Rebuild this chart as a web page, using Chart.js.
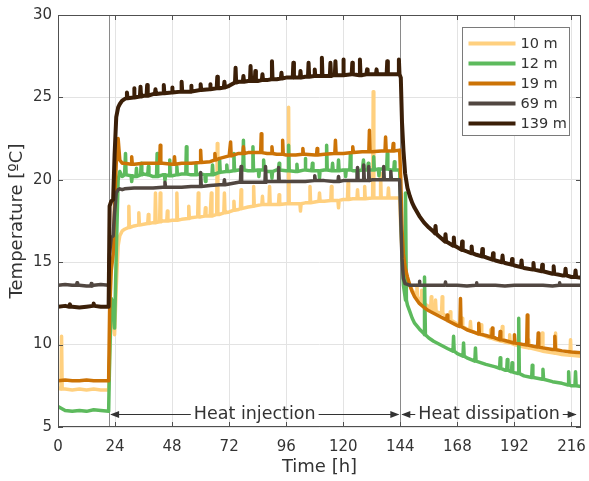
<!DOCTYPE html>
<html>
<head>
<meta charset="utf-8">
<script src="https://cdn.jsdelivr.net/npm/chart.js@4.4.1/dist/chart.umd.min.js"></script>
<style>
  html, body { margin: 0; padding: 0; background: #fff; }
  #wrap { width: 589px; height: 481px; }
</style>
</head>
<body>
<div id="wrap"><canvas id="chart" width="589" height="481"></canvas></div>
<script>
// time grid [h]
const hours = [0, 3, 6, 9, 12, 15, 18, 21.3,
  21.7, 22.4, 23.2, 23.8, 24.5, 25.3, 26, 27,
  28, 32, 36, 40, 44, 48, 52, 56, 60, 64, 68, 72, 76, 80, 84, 88, 92, 96, 100, 104, 108, 112, 116, 120, 124, 128, 132, 136, 140,
  143.7, 144.2, 144.7, 145.3, 146, 147, 148, 149, 150, 152, 154, 156, 158, 160,
  164, 168, 172, 176, 180, 184, 188, 192, 196, 200, 204, 208, 212, 216, 220];

const temp10 = [7.35, 7.3, 7.25, 7.3, 7.25, 7.3, 7.25, 7.25,
  9.0, 12.0, 12.5, 10.6, 13.5, 16.0, 16.6, 16.9,
  17.0, 17.2, 17.3, 17.4, 17.5, 17.55, 17.6, 17.7, 17.75, 17.8, 17.9, 18.05, 18.2, 18.35, 18.45, 18.5, 18.5, 18.55, 18.55, 18.6, 18.65, 18.7, 18.75, 18.8, 18.85, 18.85, 18.9, 18.9, 18.9,
  18.9, 17.0, 15.6, 14.8, 14.3, 13.9, 13.6, 13.3, 13.1, 12.75, 12.5, 12.3, 12.1, 11.95,
  11.6, 11.25, 10.95, 10.7, 10.5, 10.3, 10.15, 10.0, 9.85, 9.75, 9.6, 9.5, 9.4, 9.35, 9.3];

const temp12 = [6.25, 6.0, 5.95, 6.0, 5.95, 6.05, 6.0, 5.95,
  9.0, 12.8, 12.5, 11.0, 15.5, 20.0, 20.5, 20.2,
  20.3, 20.2, 20.35, 20.2, 20.3, 20.25, 20.35, 20.3, 20.35, 20.3, 20.45, 20.5, 20.6, 20.55, 20.6, 20.5, 20.6, 20.55, 20.5, 20.6, 20.55, 20.6, 20.55, 20.6, 20.55, 20.6, 20.6, 20.65, 20.6,
  20.6, 18.5, 15.5, 13.6, 12.9, 12.4, 12.0, 11.6, 11.3, 10.95, 10.65, 10.4, 10.2, 10.05,
  9.75, 9.45, 9.2, 9.0, 8.8, 8.65, 8.45, 8.3, 8.1, 8.0, 7.9, 7.75, 7.65, 7.5, 7.45];

const temp19 = [7.8, 7.85, 7.8, 7.8, 7.85, 7.8, 7.8, 7.8,
  12.0, 14.5, 15.5, 18.5, 21.0, 22.5, 21.2, 21.0,
  21.0, 20.95, 21.0, 21.0, 21.0, 20.95, 21.0, 21.0, 21.05, 21.1, 21.3, 21.45, 21.6, 21.65, 21.65, 21.6, 21.55, 21.5, 21.5, 21.55, 21.5, 21.55, 21.6, 21.6, 21.65, 21.7, 21.7, 21.75, 21.75,
  21.8, 20.0, 17.0, 15.5, 14.7, 14.1, 13.6, 13.2, 12.9, 12.5, 12.25, 12.05, 11.9, 11.75,
  11.45, 11.15, 10.9, 10.7, 10.55, 10.4, 10.25, 10.1, 10.0, 9.9, 9.8, 9.7, 9.62, 9.55, 9.5];

const temp69 = [13.6, 13.65, 13.6, 13.6, 13.55, 13.6, 13.65, 13.6,
  15.5, 16.5, 16.6, 18.0, 19.2, 19.4, 19.45, 19.4,
  19.45, 19.5, 19.5, 19.5, 19.55, 19.55, 19.55, 19.6, 19.6, 19.65, 19.7, 19.75, 19.85, 19.85, 19.85, 19.9, 19.9, 19.9, 19.9, 19.9, 19.95, 19.95, 19.9, 19.95, 19.95, 19.95, 20.0, 20.0, 20.0,
  20.0, 17.5, 15.2, 14.0, 13.7, 13.65, 13.6, 13.6, 13.6, 13.6, 13.6, 13.6, 13.6, 13.6,
  13.6, 13.6, 13.55, 13.6, 13.6, 13.6, 13.55, 13.6, 13.6, 13.6, 13.6, 13.55, 13.6, 13.6, 13.6];

const temp139 = [12.3, 12.35, 12.3, 12.25, 12.3, 12.35, 12.3, 12.3,
  18.4, 18.7, 18.8, 21.5, 23.8, 24.4, 24.6, 24.8,
  24.9, 25.0, 25.1, 25.2, 25.25, 25.3, 25.35, 25.35, 25.45, 25.5, 25.55, 25.7, 25.95, 26.0, 26.0, 26.05, 26.1, 26.2, 26.2, 26.25, 26.3, 26.3, 26.35, 26.35, 26.4, 26.35, 26.4, 26.4, 26.4,
  26.4, 26.2, 23.5, 21.8, 20.4, 19.5, 19.0, 18.6, 18.3, 17.8, 17.4, 17.1, 16.85, 16.6,
  16.2, 15.9, 15.65, 15.45, 15.3, 15.1, 14.95, 14.8, 14.65, 14.55, 14.45, 14.3, 14.2, 14.1, 14.05];

// short spikes: [hour, base, peak]
const spikes10 = [[1.5, 7.3, 10.5], [29.8, 17.1, 18.4], [34, 17.25, 18.0], [38, 17.35, 17.9], [41, 17.4, 19.2], [43, 17.45, 19.2],
  [46, 17.5, 18.1], [50, 17.55, 19.2], [55, 17.65, 18.4], [59, 17.75, 19.2], [62, 17.8, 18.3], [64.5, 17.8, 19.2],
  [67, 17.9, 22.2], [70, 18.0, 19.2], [74, 18.15, 18.7], [77, 18.25, 19.4], [82.3, 18.4, 19.6], [86, 18.5, 19.0],
  [89, 18.5, 19.6], [93, 18.5, 19.1], [97, 18.55, 24.4], [102, 18.55, 18.1], [106, 18.6, 19.6], [110, 18.7, 19.2],
  [115, 18.75, 19.6], [118, 18.75, 18.3], [122, 18.8, 19.8], [126, 18.85, 19.4], [129, 18.85, 19.6],
  [132.6, 18.9, 25.35], [135.7, 18.9, 20.4], [139, 18.9, 19.5], [151, 12.9, 13.6], [153, 12.6, 13.3], [157, 12.2, 12.9],
  [158.8, 12.0, 12.7], [161.6, 11.9, 12.9], [165, 11.5, 12.0], [170, 11.1, 11.6], [173.5, 10.85, 11.4], [178, 10.6, 11.2],
  [182, 10.4, 10.9], [186.9, 10.2, 11.1], [190, 10.1, 10.6], [198, 9.8, 10.3], [203.7, 9.62, 10.7], [209.3, 9.48, 10.7],
  [215.6, 9.35, 10.3]];

const spikes12 = [[28.4, 20.3, 21.6], [31, 20.25, 19.9], [33, 20.2, 20.7], [35, 20.3, 21.0], [38, 20.3, 20.8],
  [41.7, 20.2, 21.6], [45, 20.3, 19.95], [47, 20.25, 21.2], [50, 20.3, 20.8], [54, 20.35, 22.0], [58, 20.3, 21.0],
  [62, 20.3, 19.9], [65, 20.3, 20.9], [68, 20.45, 21.2], [71, 20.5, 20.9], [74, 20.55, 21.6], [78, 20.6, 22.4],
  [82, 20.55, 22.0], [84.5, 20.6, 20.2], [86.5, 20.6, 21.2], [90, 20.5, 20.1], [93, 20.6, 21.0], [97, 20.55, 22.1],
  [100.5, 20.5, 20.95], [104, 20.6, 21.3], [107, 20.55, 21.0], [110, 20.55, 20.1], [113, 20.6, 22.1], [115.5, 20.55, 21.0],
  [118, 20.55, 21.2], [121, 20.6, 20.2], [123, 20.6, 21.6], [126, 20.55, 20.15], [128.5, 20.6, 21.2], [130.5, 20.6, 21.0],
  [132.8, 20.6, 21.4], [135, 20.65, 20.25], [138.5, 20.65, 21.6], [141.5, 20.6, 21.1], [146.3, 12.7, 19.2],
  [154.3, 10.6, 14.1], [166.4, 9.6, 10.5], [170.6, 9.3, 10.1], [175.6, 9.0, 9.8], [186, 8.55, 9.2], [189, 8.45, 9.1],
  [191, 8.35, 8.9], [193.8, 8.25, 11.6], [199.5, 8.0, 8.75], [204, 7.9, 8.5], [214.8, 7.55, 8.35], [217.7, 7.5, 8.35]];

const spikes19 = [[31, 20.95, 21.4], [43, 21.0, 22.1], [49, 20.95, 21.4], [60, 21.05, 21.8], [66, 21.2, 21.6],
  [72.6, 21.45, 22.3], [78, 21.6, 22.0], [85.5, 21.65, 22.8], [90, 21.6, 22.0], [94.5, 21.55, 22.4], [103, 21.55, 21.9],
  [109, 21.5, 21.9], [116.7, 21.6, 22.4], [124, 21.65, 22.0], [131, 21.7, 23.0], [137.8, 21.75, 22.6], [141, 21.75, 22.2],
  [163.7, 11.5, 11.8], [169.3, 11.1, 12.8], [177, 10.65, 11.3], [182.7, 10.45, 11.0], [186, 10.3, 10.8], [192, 10.1, 10.6],
  [197.4, 9.98, 11.8], [202, 9.85, 10.7], [209, 9.7, 10.5]];

const spikes69 = [[8, 13.6, 13.75], [14, 13.55, 13.7], [45, 19.55, 19.85], [60, 19.6, 20.45], [70, 19.7, 20.0],
  [77, 19.85, 20.8], [87.3, 19.85, 20.8], [92.8, 19.9, 20.75], [108, 19.95, 20.25], [118, 19.9, 20.2], [126, 19.95, 20.75],
  [128.6, 19.95, 20.9], [130.7, 19.95, 20.8], [137, 20.0, 20.8], [140, 20.0, 20.5], [152, 13.6, 13.85], [163, 13.6, 13.8],
  [176, 13.6, 13.75], [211, 13.6, 13.75]];

const spikes139 = [[5, 12.3, 12.45], [15, 12.35, 12.5], [29, 24.95, 25.3], [32, 25.0, 25.55], [34.7, 25.05, 25.65],
  [37.5, 25.1, 25.75], [41, 25.2, 25.5], [44.5, 25.25, 25.75], [48, 25.3, 25.6], [52, 25.35, 25.95], [56, 25.35, 25.7],
  [60, 25.45, 25.8], [64, 25.5, 25.8], [67, 25.55, 26.25], [70, 25.6, 25.95], [74.7, 25.9, 26.8], [78, 25.95, 26.3],
  [81, 26.0, 26.9], [83, 26.0, 26.6], [86, 26.05, 26.4], [90, 26.1, 27.2], [94, 26.15, 26.5], [99, 26.2, 27.1],
  [102, 26.2, 26.6], [105.4, 26.25, 27.1], [108, 26.3, 26.7], [111, 26.3, 27.4], [114.6, 26.3, 27.1], [116.7, 26.35, 27.2],
  [120, 26.35, 27.3], [123.8, 26.4, 27.1], [127, 26.35, 27.3], [130, 26.4, 26.7], [134, 26.4, 26.7], [138.5, 26.4, 27.2],
  [143.4, 26.4, 27.3], [158.8, 16.75, 17.2], [163, 16.25, 16.7], [166.5, 16.0, 16.5], [170, 15.75, 16.25],
  [174, 15.55, 15.95], [178.5, 15.35, 15.8], [183, 15.15, 15.55], [187, 15.0, 15.4], [191, 14.85, 15.2], [195, 14.7, 15.1],
  [200, 14.55, 14.95], [203.7, 14.45, 14.85], [208.5, 14.3, 14.75], [213.5, 14.2, 14.6], [217.7, 14.1, 14.5]];

const labels = ['10 m', '12 m', '19 m', '69 m', '139 m'];
const colors = ['#FFD07F', '#5DBA5D', '#CC7306', '#514741', '#3B1F08'];
const phaseLines = [21.5, 144];
const phases = [
  { label: 'Heat injection', from: 21.5, to: 144 },
  { label: 'Heat dissipation', from: 144, to: 218.6 },
];
const arrowLevel = 5.8;

function buildSeries(values, spikes) {
  const pts = hours.map((h, i) => ({ x: h, y: values[i] }));
  spikes.forEach(([h, base, peak]) => {
    pts.push({ x: h - 0.25, y: base }, { x: h, y: peak }, { x: h + 0.25, y: base });
  });
  return pts.sort((a, b) => a.x - b.x);
}

const series = [
  buildSeries(temp10, spikes10),
  buildSeries(temp12, spikes12),
  buildSeries(temp19, spikes19),
  buildSeries(temp69, spikes69),
  buildSeries(temp139, spikes139),
];

const FONT = "'DejaVu Sans', Verdana, sans-serif";
const TEXT = '#333333';

const overlay = {
  id: 'overlay',
  beforeDatasetsDraw(chart) {
    const { ctx, chartArea: a, scales: { x } } = chart;
    ctx.save();
    ctx.strokeStyle = '#8a8a8a';
    ctx.lineWidth = 1;
    phaseLines.forEach(h => {
      const px = Math.round(x.getPixelForValue(h)) + 0.5;
      ctx.beginPath(); ctx.moveTo(px, a.top); ctx.lineTo(px, a.bottom); ctx.stroke();
    });
    ctx.restore();
  },
  afterDraw(chart) {
    const { ctx, chartArea: a, scales: { x, y } } = chart;
    ctx.save();
    // frame + inward ticks
    ctx.strokeStyle = '#505050';
    ctx.lineWidth = 1;
    ctx.strokeRect(Math.round(a.left) + 0.5, Math.round(a.top) + 0.5, Math.round(a.right - a.left) - 1, Math.round(a.bottom - a.top) - 1);
    ctx.beginPath();
    x.ticks.forEach(t => {
      const px = Math.round(x.getPixelForValue(t.value)) + 0.5;
      ctx.moveTo(px, a.bottom); ctx.lineTo(px, a.bottom - 5);
      ctx.moveTo(px, a.top); ctx.lineTo(px, a.top + 5);
    });
    y.ticks.forEach(t => {
      const py = Math.round(y.getPixelForValue(t.value)) + 0.5;
      ctx.moveTo(a.left, py); ctx.lineTo(a.left + 5, py);
      ctx.moveTo(a.right, py); ctx.lineTo(a.right - 5, py);
    });
    ctx.stroke();

    // phase arrows
    const py = Math.round(y.getPixelForValue(arrowLevel)) + 0.5;
    ctx.font = '17.5px ' + FONT;
    ctx.fillStyle = TEXT;
    ctx.strokeStyle = '#333';
    ctx.textAlign = 'center';
    ctx.textBaseline = 'middle';
    phases.forEach(p => {
      const x1 = x.getPixelForValue(p.from), x2 = x.getPixelForValue(p.to);
      const cx = (x1 + x2) / 2;
      const tw = ctx.measureText(p.label).width;
      ctx.fillText(p.label, cx, py);
      ctx.beginPath();
      ctx.moveTo(x1 + 2, py); ctx.lineTo(cx - tw / 2 - 3, py);
      ctx.moveTo(cx + tw / 2 + 3, py); ctx.lineTo(x2 - 2, py);
      ctx.stroke();
      ctx.beginPath();
      ctx.moveTo(x1 + 1, py); ctx.lineTo(x1 + 10, py - 3.5); ctx.lineTo(x1 + 10, py + 3.5); ctx.closePath();
      ctx.moveTo(x2 - 1, py); ctx.lineTo(x2 - 10, py - 3.5); ctx.lineTo(x2 - 10, py + 3.5); ctx.closePath();
      ctx.fill();
    });

    // legend box
    const bx = Math.round(a.right) - 118.5, by = Math.round(a.top) + 12.5, bw = 107, bh = 108;
    ctx.fillStyle = '#fff';
    ctx.fillRect(bx, by, bw, bh);
    ctx.strokeStyle = '#7a7a7a';
    ctx.strokeRect(bx, by, bw, bh);
    ctx.font = '14.5px ' + FONT;
    ctx.textAlign = 'left';
    labels.forEach((lab, i) => {
      const ly = by + 16 + i * 20;
      ctx.strokeStyle = colors[i];
      ctx.lineWidth = 4;
      ctx.beginPath(); ctx.moveTo(bx + 6, ly); ctx.lineTo(bx + 53, ly); ctx.stroke();
      ctx.fillStyle = TEXT;
      ctx.fillText(lab, bx + 58, ly + 1);
    });
    ctx.restore();
  }
};

new Chart(document.getElementById('chart'), {
  type: 'line',
  data: {
    datasets: series.map((pts, i) => ({
      label: labels[i],
      data: pts,
      borderColor: colors[i],
      backgroundColor: colors[i],
      borderWidth: i === 4 ? 4 : 3.5,
      borderJoinStyle: 'round',
      pointRadius: 0,
      tension: 0,
      order: 5 - i,
    })),
  },
  options: {
    responsive: false,
    animation: false,
    layout: { padding: { top: 14, right: 8, left: 0, bottom: 0 } },
    plugins: { legend: { display: false }, tooltip: { enabled: false } },
    scales: {
      x: {
        type: 'linear', min: 0, max: 220,
        ticks: { stepSize: 24, includeBounds: false, color: TEXT, font: { size: 15, family: FONT }, padding: 11, maxRotation: 0 },
        grid: { color: '#e3e3e3', drawTicks: false },
        border: { display: false },
        title: { display: true, text: 'Time [h]', color: TEXT, font: { size: 18, family: FONT }, padding: { top: 2, bottom: 3 } },
        afterFit(scale) { scale.height = 54; scale.paddingLeft = 0; scale.paddingRight = 0; },
      },
      y: {
        min: 5, max: 30,
        ticks: { stepSize: 5, color: TEXT, font: { size: 15, family: FONT }, padding: 6 },
        grid: { color: '#e3e3e3', drawTicks: false },
        border: { display: false },
        title: { display: true, text: 'Temperature [ºC]', color: TEXT, font: { size: 18, family: FONT }, padding: { top: 7, bottom: 0 } },
        afterFit(scale) { scale.width = 58; },
      },
    },
  },
  plugins: [overlay],
});
</script>
</body>
</html>
